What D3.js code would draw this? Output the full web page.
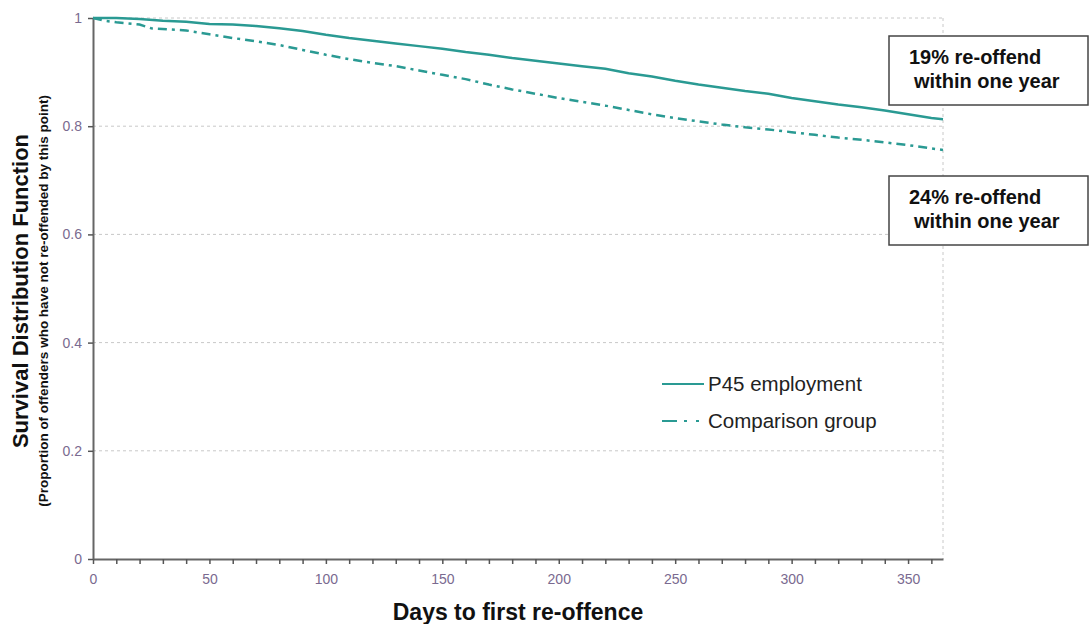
<!DOCTYPE html>
<html>
<head>
<meta charset="utf-8">
<script src="https://cdn.jsdelivr.net/npm/d3@7"></script>
<style>
  body { margin: 0; background: #fff; font-family: "Liberation Sans", Arial, sans-serif; }
  svg { display: block; }
</style>
</head>
<body>
<div id="chart"></div>
<script>
// days since release
const days = [0, 10, 20, 30, 40, 50, 60, 70, 80, 90, 100, 110, 120, 130, 140, 150, 160, 170, 180,
    190, 200, 210, 220, 230, 240, 250, 260, 270, 280, 290, 300, 310, 320, 330, 340, 350, 360, 365];
const p45Survival = [1.000, 1.000, 0.998, 0.995, 0.993, 0.989, 0.988, 0.985, 0.981, 0.976, 0.969,
    0.963, 0.958, 0.953, 0.948, 0.943, 0.937, 0.932, 0.926, 0.921, 0.916, 0.911, 0.906, 0.898,
    0.892, 0.884, 0.877, 0.871, 0.865, 0.860, 0.852, 0.846, 0.840, 0.835, 0.829, 0.822, 0.815, 0.813];

const compDays = [0, 5, 10, 20, 25, 40, 50, 60, 70, 80, 90, 100, 110, 120, 130, 140, 150, 160, 170,
    180, 190, 200, 210, 220, 230, 240, 250, 260, 270, 280, 290, 300, 310, 320, 330, 340, 350, 360, 365];
const compSurvival = [1.000, 0.995, 0.992, 0.988, 0.981, 0.977, 0.970, 0.963, 0.957, 0.950, 0.941,
    0.932, 0.924, 0.917, 0.911, 0.903, 0.895, 0.887, 0.877, 0.868, 0.860, 0.852, 0.845, 0.838,
    0.830, 0.822, 0.815, 0.809, 0.803, 0.798, 0.794, 0.789, 0.784, 0.779, 0.775, 0.770, 0.765,
    0.759, 0.756];

const seriesNames = ["P45 employment", "Comparison group"];
const annotations = [
    ["19% re-offend", "within one year"],
    ["24% re-offend", "within one year"]
];
const xTicks = [0, 50, 100, 150, 200, 250, 300, 350];
const yTicks = [0, 0.2, 0.4, 0.6, 0.8, 1];

const W = 1091, H = 624;
const margin = { top: 18, right: 148, bottom: 65, left: 93 };
const width = W - margin.left - margin.right;
const height = H - margin.top - margin.bottom;
const teal = "#2a9a93";
const tickColor = "#7a6a90";

const svg = d3.select("#chart").append("svg")
    .attr("width", W)
    .attr("height", H);

const g = svg.append("g")
    .attr("transform", `translate(${margin.left},${margin.top})`);

const x = d3.scaleLinear().domain([0, 365]).range([0, width]);
const y = d3.scaleLinear().domain([0, 1]).range([height, 0]);

// horizontal grid
g.append("g")
    .selectAll("line")
    .data(yTicks.filter(d => d > 0))
    .enter()
    .append("line")
    .attr("x1", 0)
    .attr("x2", width)
    .attr("y1", d => y(d))
    .attr("y2", d => y(d))
    .attr("stroke", "#c8c8c8")
    .attr("stroke-dasharray", "3,3");

// right border
g.append("line")
    .attr("x1", width).attr("x2", width)
    .attr("y1", 0).attr("y2", height)
    .attr("stroke", "#c8c8c8")
    .attr("stroke-dasharray", "3,3");

// x axis (minor ticks every 10 days)
const xAxisG = g.append("g")
    .attr("transform", `translate(0,${height})`)
    .call(d3.axisBottom(x)
        .tickValues(d3.range(0, 366, 10))
        .tickSize(5)
        .tickSizeOuter(0)
        .tickFormat(d => xTicks.includes(d) ? d : ""));
xAxisG.select(".domain").attr("stroke", "#666").attr("stroke-width", 2);
xAxisG.selectAll(".tick line").attr("stroke", "#555").attr("stroke-width", 1.5);
xAxisG.selectAll("text")
    .attr("dy", "1.2em")
    .style("fill", tickColor)
    .style("font-size", "14px")
    .style("font-family", "Liberation Sans, Arial, sans-serif");

// y axis
const yAxisG = g.append("g")
    .call(d3.axisLeft(y)
        .tickValues(yTicks)
        .tickSize(5)
        .tickSizeOuter(0)
        .tickFormat(d => d === 0 || d === 1 ? d : d3.format(".1f")(d)));
yAxisG.select(".domain").attr("stroke", "#666").attr("stroke-width", 2);
yAxisG.selectAll(".tick line").attr("stroke", "#555").attr("stroke-width", 1.5);
yAxisG.selectAll("text")
    .attr("x", -11)
    .style("fill", tickColor)
    .style("font-size", "14px")
    .style("font-family", "Liberation Sans, Arial, sans-serif");

// lines
const line = d3.line()
    .x(d => x(d[0]))
    .y(d => y(d[1]));

g.append("path")
    .datum(d3.zip(days, p45Survival))
    .attr("fill", "none")
    .attr("stroke", teal)
    .attr("stroke-width", 2.5)
    .attr("d", line);

g.append("path")
    .datum(d3.zip(compDays, compSurvival))
    .attr("fill", "none")
    .attr("stroke", teal)
    .attr("stroke-width", 2.5)
    .attr("stroke-dasharray", "9,5,3,5")
    .attr("d", line);

// legend
const legend = svg.append("g");
seriesNames.forEach((name, i) => {
    const ly = 384 + i * 37;
    const item = legend.append("g");
    const l = item.append("line")
        .attr("x1", 662).attr("x2", 704)
        .attr("y1", ly).attr("y2", ly)
        .attr("stroke", teal).attr("stroke-width", 2);
    if (i === 1) l.attr("stroke-dasharray", "15,7,3,9,3,20");
    item.append("text")
        .attr("x", 708)
        .attr("y", ly + 7)
        .attr("font-size", "20.5px")
        .attr("fill", "#222")
        .text(name);
});

// annotation boxes
annotations.forEach((lines, i) => {
    const by = 36 + i * 140;
    const box = svg.append("g");
    box.append("rect")
        .attr("x", 889).attr("y", by)
        .attr("width", 199).attr("height", 69)
        .attr("fill", "#fff")
        .attr("stroke", "#444")
        .attr("stroke-width", 1.5);
    box.append("text")
        .attr("x", 909).attr("y", by + 28)
        .attr("font-size", "20px").attr("font-weight", "bold")
        .attr("fill", "#111")
        .text(lines[0]);
    box.append("text")
        .attr("x", 914).attr("y", by + 52)
        .attr("font-size", "20px").attr("font-weight", "bold")
        .attr("fill", "#111")
        .text(lines[1]);
});

// axis titles
svg.append("text")
    .attr("x", 518)
    .attr("y", 620)
    .attr("text-anchor", "middle")
    .attr("font-size", "23px")
    .attr("font-weight", "bold")
    .attr("fill", "#111")
    .text("Days to first re-offence");

svg.append("text")
    .attr("transform", "translate(28,291) rotate(-90)")
    .attr("text-anchor", "middle")
    .attr("font-size", "22px")
    .attr("font-weight", "bold")
    .attr("fill", "#111")
    .text("Survival Distribution Function");

svg.append("text")
    .attr("transform", "translate(48,301) rotate(-90)")
    .attr("text-anchor", "middle")
    .attr("font-size", "13.5px")
    .attr("font-weight", "bold")
    .attr("fill", "#111")
    .text("(Proportion of offenders who have not re-offended by this point)");
</script>
</body>
</html>
